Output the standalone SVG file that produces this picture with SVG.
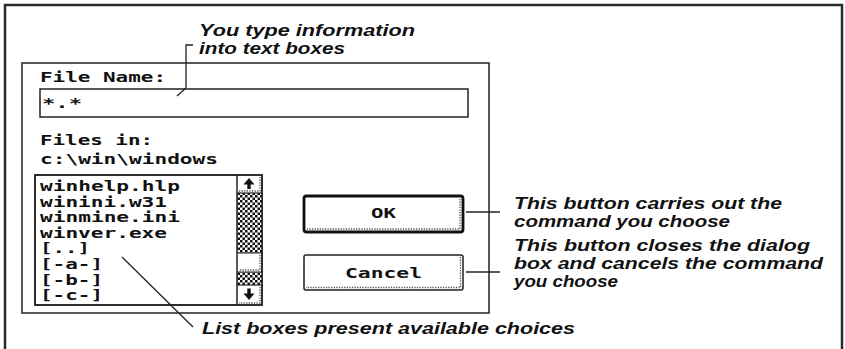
<svg xmlns="http://www.w3.org/2000/svg" width="845" height="349" viewBox="0 0 845 349">
<defs>
<pattern id="checker" x="0" y="0" width="5" height="5" patternUnits="userSpaceOnUse">
<rect width="5" height="5" fill="#fff"/>
<rect x="0" y="0" width="2.5" height="2.5" fill="#111"/>
<rect x="2.5" y="2.5" width="2.5" height="2.5" fill="#111"/>
</pattern>
<clipPath id="listclip"><rect x="35" y="175" width="202" height="130"/></clipPath>
<style>
.mono{font-family:"DejaVu Sans Mono","Liberation Mono",monospace;font-weight:bold;font-size:13.5px;fill:#111}
.ann{font-family:"Liberation Sans",Arial,sans-serif;font-weight:bold;font-style:italic;font-size:17px;fill:#111}
.box{fill:#fff;stroke:#222;stroke-width:1.5}
.outline{fill:none;stroke:#222;stroke-width:1.5}
.shadow{fill:none;stroke:#555;stroke-width:1.3;stroke-dasharray:1.3 1.3}
.conn{fill:none;stroke:#222;stroke-width:1.3}
</style>
</defs>
<rect width="845" height="349" fill="#fff"/>
<g id="frame">
<path d="M5,349 V5 H842 V349" fill="none" stroke="#2a2a2a" stroke-width="2.5"/>
</g>
<g id="dialog">
<rect class="box" x="22" y="63" width="467" height="250"/>
<text class="mono" x="40" y="82" textLength="126" lengthAdjust="spacingAndGlyphs">File Name:</text>
<text class="mono" x="40" y="145" textLength="113" lengthAdjust="spacingAndGlyphs">Files in:</text>
<text class="mono" x="40" y="164" textLength="178" lengthAdjust="spacingAndGlyphs">c:\win\windows</text>
</g>
<g id="filename-box">
<rect class="box" x="40" y="89" width="428" height="28" stroke-width="2"/>
<text class="mono" x="42" y="108" textLength="40" lengthAdjust="spacingAndGlyphs">*.*</text>
</g>
<g id="list-box">
<rect class="box" x="35" y="175" width="227" height="130"/>
<g clip-path="url(#listclip)">
<text class="mono" x="40" y="191" textLength="140" lengthAdjust="spacingAndGlyphs">winhelp.hlp</text>
<text class="mono" x="40" y="206.6" textLength="127" lengthAdjust="spacingAndGlyphs">winini.w31</text>
<text class="mono" x="40" y="222.2" textLength="140" lengthAdjust="spacingAndGlyphs">winmine.ini</text>
<text class="mono" x="40" y="237.8" textLength="127" lengthAdjust="spacingAndGlyphs">winver.exe</text>
<text class="mono" x="40" y="253.4" textLength="50" lengthAdjust="spacingAndGlyphs">[..]</text>
<text class="mono" x="40" y="269" textLength="63" lengthAdjust="spacingAndGlyphs">[-a-]</text>
<text class="mono" x="40" y="284.6" textLength="63" lengthAdjust="spacingAndGlyphs">[-b-]</text>
<text class="mono" x="40" y="300.2" textLength="63" lengthAdjust="spacingAndGlyphs">[-c-]</text>
</g>
</g>
<g id="scrollbar">
<rect x="237" y="193" width="25" height="60" fill="url(#checker)"/>
<rect x="237" y="272" width="25" height="13" fill="url(#checker)"/>
<line x1="237" y1="175" x2="237" y2="305" stroke="#222" stroke-width="1.5"/>
<line x1="237" y1="193" x2="262" y2="193" stroke="#222" stroke-width="1.2"/>
<line x1="237" y1="285" x2="262" y2="285" stroke="#222" stroke-width="1.2"/>
<line x1="237" y1="253" x2="262" y2="253" stroke="#222" stroke-width="1"/>
<line x1="237" y1="272" x2="262" y2="272" stroke="#222" stroke-width="1"/>
<path class="shadow" d="M260,177 V191 H239"/>
<path class="shadow" d="M260,255 V270 H239"/>
<path class="shadow" d="M260,287 V303 H239"/>
<polygon points="249,178 243.5,184.5 254.5,184.5" fill="#111"/>
<rect x="247.3" y="184" width="3.4" height="5" fill="#111"/>
<polygon points="249,300 243.5,293.5 254.5,293.5" fill="#111"/>
<rect x="247.3" y="288.5" width="3.4" height="5.5" fill="#111"/>
<rect class="outline" x="35" y="175" width="227" height="130"/>
</g>
<g id="ok-button">
<rect x="304" y="196" width="159" height="36" rx="2.5" fill="#fff" stroke="#111" stroke-width="2.8"/>
<path class="shadow" d="M460,199 V229 H307"/>
<text class="mono" x="383.5" y="218" text-anchor="middle" textLength="25" lengthAdjust="spacingAndGlyphs">OK</text>
</g>
<g id="cancel-button">
<rect x="304" y="255" width="159" height="35" rx="2" fill="#fff" stroke="#222" stroke-width="1.5"/>
<path class="shadow" d="M460.5,257 V287.5 H306"/>
<text class="mono" x="383.5" y="277.5" text-anchor="middle" textLength="77" lengthAdjust="spacingAndGlyphs">Cancel</text>
</g>
<g id="annotations">
<text class="ann" x="199" y="36" textLength="216" lengthAdjust="spacingAndGlyphs">You type information</text>
<text class="ann" x="199" y="54" textLength="146" lengthAdjust="spacingAndGlyphs">into text boxes</text>
<text class="ann" x="514" y="209" textLength="268" lengthAdjust="spacingAndGlyphs">This button carries out the</text>
<text class="ann" x="514" y="227" textLength="216" lengthAdjust="spacingAndGlyphs">command you choose</text>
<text class="ann" x="514" y="251" textLength="296" lengthAdjust="spacingAndGlyphs">This button closes the dialog</text>
<text class="ann" x="514" y="269" textLength="309" lengthAdjust="spacingAndGlyphs">box and cancels the command</text>
<text class="ann" x="514" y="287" textLength="104" lengthAdjust="spacingAndGlyphs">you choose</text>
<text class="ann" x="202" y="334" textLength="373" lengthAdjust="spacingAndGlyphs">List boxes present available choices</text>
</g>
<g id="connectors">
<polyline class="conn" points="193,45 186,45 186,88 177,96"/>
<line class="conn" x1="466" y1="212" x2="500" y2="212" stroke-width="1.6"/>
<line class="conn" x1="466" y1="272" x2="500" y2="272" stroke-width="1.6"/>
<line class="conn" x1="122" y1="257" x2="193" y2="327" stroke-width="1"/>
</g>
</svg>
